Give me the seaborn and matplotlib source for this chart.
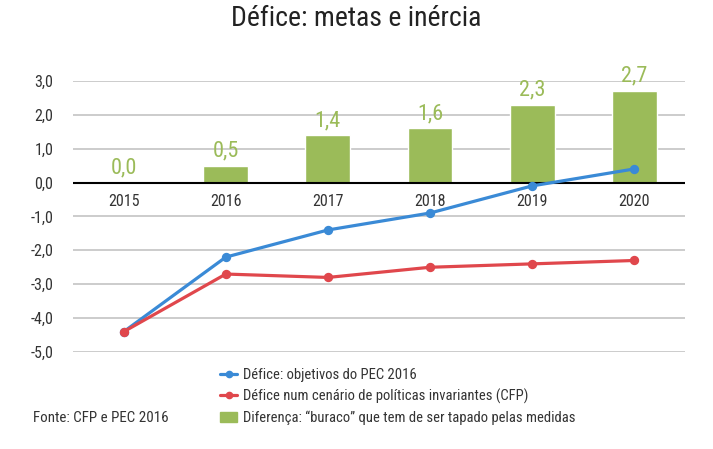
import matplotlib
matplotlib.use("Agg")
import matplotlib.pyplot as plt
import seaborn as sns
import pandas as pd
from matplotlib.lines import Line2D
from matplotlib.patches import Patch
from matplotlib.ticker import FuncFormatter

years = ["2015", "2016", "2017", "2018", "2019", "2020"]
pec = [-4.4, -2.2, -1.4, -0.9, -0.1, 0.4]
cfp = [-4.4, -2.7, -2.8, -2.5, -2.4, -2.3]
gap = [0.0, 0.5, 1.4, 1.6, 2.3, 2.7]

BLUE = "#3a8ad6"
RED = "#e0474c"
GREEN = "#9bbb59"
TXT = "#333333"

sns.set_theme(style="white")
plt.rcParams["font.family"] = ["Roboto Condensed", "Roboto", "DejaVu Sans"]

df = pd.DataFrame({"ano": years, "pec": pec, "cfp": cfp, "gap": gap})

fig = plt.figure(figsize=(7.13, 4.49), dpi=100)
ax = fig.add_axes([0.102, 0.216, 0.859, 0.604])

for y in range(-5, 4):
    if y != 0:
        ax.axhline(y, color="#c8c8c8", lw=1.3, zorder=0)

sns.barplot(data=df, x="ano", y="gap", color=GREEN, width=0.44,
            saturation=1, ax=ax, zorder=2)
ax.axhline(0, color="black", lw=1.5, zorder=3)

sns.pointplot(data=df, x="ano", y="pec", color=BLUE, markers="o",
              markersize=5, linewidth=2.3, ax=ax, zorder=4)
sns.pointplot(data=df, x="ano", y="cfp", color=RED, markers="o",
              markersize=5, linewidth=2.3, ax=ax, zorder=4)

for i, (yr, g) in enumerate(zip(years, gap)):
    ax.text(i, g + 0.12, f"{g:.1f}".replace(".", ","), ha="center", va="bottom",
            color=GREEN, fontsize=16)
    ax.text(i, -0.33, yr, ha="center", va="top", color=TXT, fontsize=11.5)

ax.set_ylim(-5, 3)
ax.set_xlim(-0.5, 5.5)
ax.set_yticks(range(-5, 4))
ax.yaxis.set_major_formatter(FuncFormatter(lambda v, p: f"{v:.1f}".replace(".", ",")))
ax.tick_params(axis="y", labelsize=11.5, labelcolor=TXT, length=0, pad=14)
ax.set_xticks([])
ax.set_xlabel("")
ax.set_ylabel("")
sns.despine(ax=ax, left=True, bottom=True)

fig.text(0.5, 0.958, "Défice: metas e inércia", ha="center", va="center",
         fontsize=20, color="#222222")

handles = [
    Line2D([0], [0], color=BLUE, lw=2.3, marker="o", markersize=4.5),
    Line2D([0], [0], color=RED, lw=2.3, marker="o", markersize=4.5),
    Patch(color=GREEN),
]
labels = [
    "Défice: objetivos do PEC 2016",
    "Défice num cenário de políticas invariantes (CFP)",
    "Diferença: \u201cburaco\u201d que tem de ser tapado pelas medidas",
]
fig.legend(handles, labels, loc="upper left", bbox_to_anchor=(0.298, 0.197),
           frameon=False, fontsize=10.5, handlelength=1.2, handletextpad=0.4,
           labelspacing=0.45, borderpad=0, labelcolor=TXT)

fig.text(0.046, 0.069, "Fonte: CFP e PEC 2016", ha="left", va="center",
         fontsize=10.8, color=TXT)

fig.savefig("out.png", dpi=100)
